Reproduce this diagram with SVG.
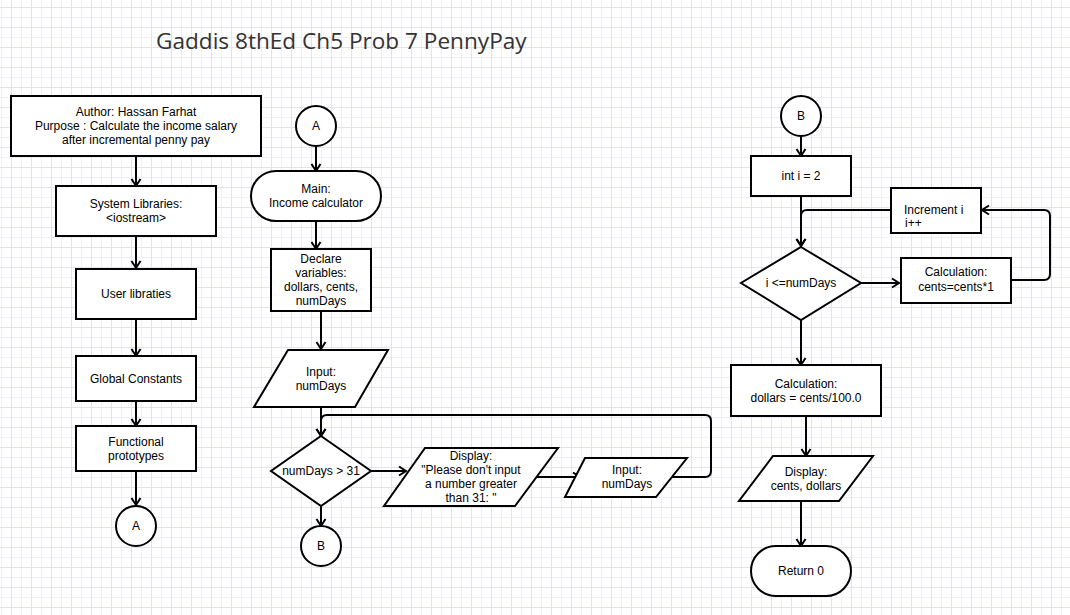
<svg xmlns="http://www.w3.org/2000/svg" width="1070" height="615" viewBox="0 0 1070 615">
<defs>
<pattern id="grid" x="1" y="7" width="20" height="20" patternUnits="userSpaceOnUse">
<rect x="0" y="0" width="20" height="20" fill="#ffffff"/>
<rect x="0" y="0" width="1" height="20" fill="#f0eef8"/>
<rect x="0" y="10" width="20" height="1" fill="#f0eef8"/>
<rect x="10" y="0" width="1" height="20" fill="#e4e1f1"/>
<rect x="0" y="0" width="20" height="1" fill="#e4e1f1"/>
</pattern>
<marker id="arr" markerWidth="14" markerHeight="14" refX="10" refY="7" orient="auto" markerUnits="userSpaceOnUse">
<path d="M3,2.5 L10,7 L3,11.5" fill="none" stroke="#000" stroke-width="2"/>
</marker>
</defs>
<style>
.s{fill:#fff;stroke:#000;stroke-width:2}
.t{font-family:"Liberation Sans",Arial,sans-serif;font-size:12px;fill:#000;text-anchor:middle}
.tl{font-family:"Liberation Sans",Arial,sans-serif;font-size:12px;fill:#000}
.e{fill:none;stroke:#000;stroke-width:2}
</style>
<rect width="1070" height="615" fill="url(#grid)"/>
<text x="156" y="49" font-family="'Open Sans','Noto Sans',sans-serif" font-size="22.6" fill="#333">Gaddis 8thEd Ch5 Prob 7 PennyPay</text>

<g id="connectors">
<path class="e" d="M136,156 L136,186" marker-end="url(#arr)"/>
<path class="e" d="M136,236 L136,268" marker-end="url(#arr)"/>
<path class="e" d="M136,318 L136,356" marker-end="url(#arr)"/>
<path class="e" d="M136,401 L136,426" marker-end="url(#arr)"/>
<path class="e" d="M136,470 L136,505" marker-end="url(#arr)"/>
<path class="e" d="M316,146 L316,171" marker-end="url(#arr)"/>
<path class="e" d="M316,221 L316,249" marker-end="url(#arr)"/>
<path class="e" d="M321,311 L321,349" marker-end="url(#arr)"/>
<path class="e" d="M321,407 L321,436" marker-end="url(#arr)"/>
<path class="e" d="M321,506 L321,526" marker-end="url(#arr)"/>
<path class="e" d="M371,471 L406,471" marker-end="url(#arr)"/>
<path class="e" d="M536,477 L580,477" marker-end="url(#arr)"/>
<path class="e" d="M672,477 L705,477 Q711,477 711,471 L711,421 Q711,415 705,415 L327,415 Q321,415 321,421 L321,436" marker-end="url(#arr)"/>
<path class="e" d="M801,136 L801,156" marker-end="url(#arr)"/>
<path class="e" d="M801,196 L801,246" marker-end="url(#arr)"/>
<path class="e" d="M891,210 L807,210 Q801,210 801,216 L801,246" marker-end="url(#arr)"/>
<path class="e" d="M861,283 L899,283" marker-end="url(#arr)"/>
<path class="e" d="M1011,280 L1044,280 Q1050,280 1050,274 L1050,216 Q1050,210 1044,210 L982,210" marker-end="url(#arr)"/>
<path class="e" d="M801,320 L801,365" marker-end="url(#arr)"/>
<path class="e" d="M806,416 L806,456" marker-end="url(#arr)"/>
<path class="e" d="M801,501 L801,546" marker-end="url(#arr)"/>
</g>

<g id="author"><rect class="s" x="11" y="96" width="250" height="60"/>
<text class="t" x="136" y="116">Author: Hassan Farhat</text>
<text class="t" x="136" y="130">Purpose : Calculate the income salary</text>
<text class="t" x="136" y="144">after incremental penny pay</text></g>

<g id="syslib"><rect class="s" x="56" y="186" width="160" height="50"/>
<text class="t" x="136" y="208">System Libraries:</text>
<text class="t" x="136" y="222">&lt;iostream&gt;</text></g>

<g id="userlib"><rect class="s" x="76" y="269" width="120" height="50"/>
<text class="t" x="136" y="298">User libraties</text></g>

<g id="globals"><rect class="s" x="76" y="356" width="120" height="45"/>
<text class="t" x="136" y="383">Global Constants</text></g>

<g id="protos"><rect class="s" x="76" y="426" width="120" height="45"/>
<text class="t" x="136" y="446">Functional</text>
<text class="t" x="136" y="460">prototypes</text></g>

<g id="connA1"><circle class="s" cx="136" cy="526" r="20"/>
<text class="t" x="136" y="530">A</text></g>

<g id="connA2"><circle class="s" cx="316" cy="126" r="20"/>
<text class="t" x="316" y="130">A</text></g>

<g id="main"><rect class="s" x="251" y="171" width="130" height="50" rx="25" ry="25"/>
<text class="t" x="316" y="193">Main:</text>
<text class="t" x="316" y="207">Income calculator</text></g>

<g id="declare"><rect class="s" x="271" y="249" width="100" height="62"/>
<text class="t" x="321" y="263">Declare</text>
<text class="t" x="321" y="277">variables:</text>
<text class="t" x="321" y="291">dollars, cents,</text>
<text class="t" x="321" y="305">numDays</text></g>

<g id="input1"><polygon class="s" points="288,350 388,350 355,407 254,407"/>
<text class="t" x="321" y="376">Input:</text>
<text class="t" x="321" y="390">numDays</text></g>

<g id="dec1"><polygon class="s" points="321,436 371,471 321,506 271,471"/>
<text class="t" x="321" y="475">numDays &gt; 31</text></g>

<g id="display1"><polygon class="s" points="425,448 558,448 515,506 384,506"/>
<text class="t" x="471" y="460">Display:</text>
<text class="t" x="471" y="474">"Please don't input</text>
<text class="t" x="471" y="488">a number greater</text>
<text class="t" x="471" y="502">than 31: "</text></g>

<g id="input2"><polygon class="s" points="585,458 687,458 656,497 565,497"/>
<text class="t" x="627" y="474">Input:</text>
<text class="t" x="627" y="488">numDays</text></g>

<g id="connB1"><circle class="s" cx="321" cy="546" r="20"/>
<text class="t" x="321" y="550">B</text></g>

<g id="connB2"><circle class="s" cx="801" cy="116" r="20"/>
<text class="t" x="801" y="120">B</text></g>

<g id="initI"><rect class="s" x="751" y="156" width="100" height="40"/>
<text class="t" x="801" y="180">int i = 2</text></g>

<g id="increment"><rect class="s" x="891" y="188" width="90" height="45"/>
<text class="tl" x="904" y="214">Increment i</text>
<text class="tl" x="905" y="227">i++</text></g>

<g id="dec2"><polygon class="s" points="801,247 861,283 801,320 741,283"/>
<text class="t" x="801" y="287">i &lt;=numDays</text></g>

<g id="calc1"><rect class="s" x="901" y="258" width="110" height="45"/>
<text class="t" x="956" y="276">Calculation:</text>
<text class="t" x="956" y="291">cents=cents*1</text></g>

<g id="calc2"><rect class="s" x="731" y="365" width="150" height="51"/>
<text class="t" x="806" y="388">Calculation:</text>
<text class="t" x="806" y="402">dollars = cents/100.0</text></g>

<g id="display2"><polygon class="s" points="773,456 873,456 839,501 739,501"/>
<text class="t" x="806" y="476">Display:</text>
<text class="t" x="806" y="490">cents, dollars</text></g>

<g id="return"><rect class="s" x="751" y="546" width="100" height="50" rx="25" ry="25"/>
<text class="t" x="801" y="575">Return 0</text></g>
</svg>
